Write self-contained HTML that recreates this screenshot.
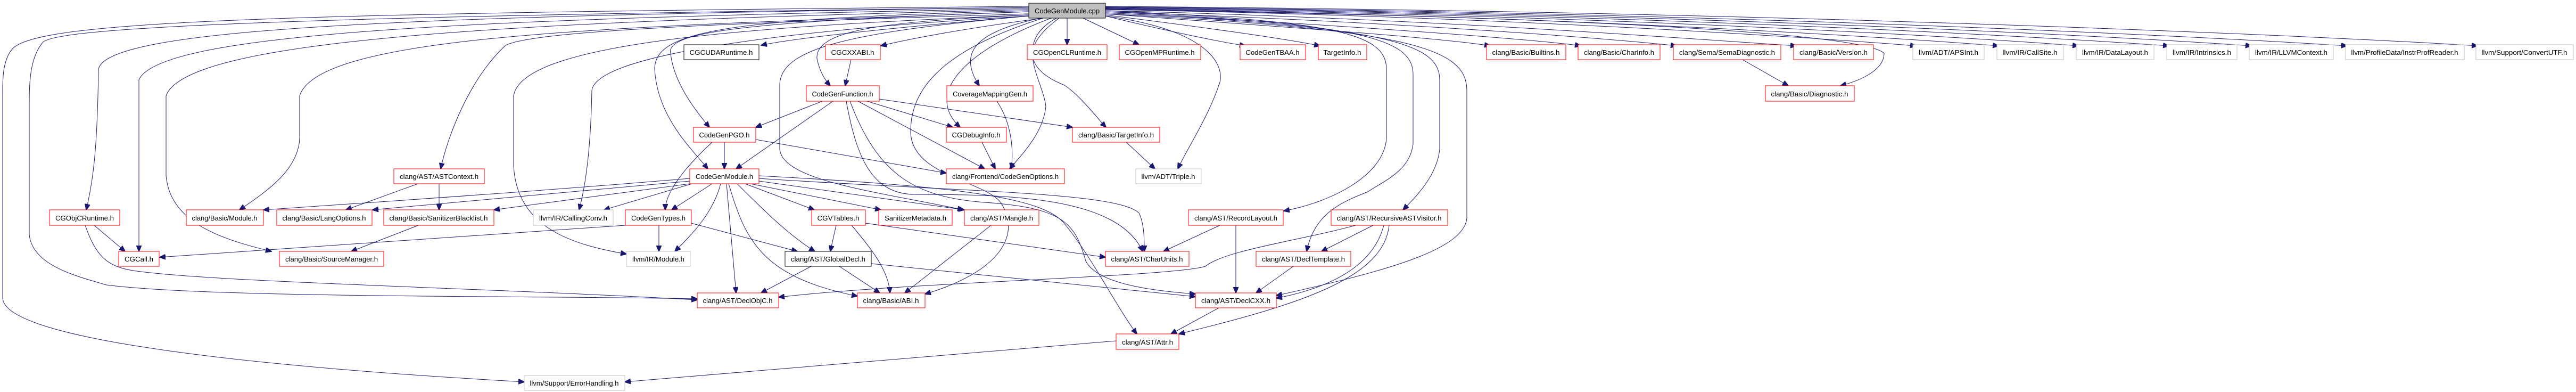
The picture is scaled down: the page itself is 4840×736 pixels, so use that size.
<!DOCTYPE html>
<html><head><meta charset="utf-8"><style>html,body{margin:0;padding:0;background:#fff}svg{display:block}</style></head>
<body>
<svg width="4840" height="736" viewBox="0 0 4840 736" xmlns="http://www.w3.org/2000/svg">
<defs><marker id="a" markerUnits="userSpaceOnUse" markerWidth="12" markerHeight="10" refX="11" refY="5" orient="auto"><path d="M0,0 L12,5 L0,10 z" fill="#191970" stroke="#191970"/></marker></defs>
<g fill="none" stroke="#191970" stroke-width="1" marker-end="url(#a)">
<path d="M2005,34 L2005,84"/>
<path d="M2035,34 L2140,84"/>
<path d="M2077,30 C2200,60 2300,80 2340,86"/>
<path d="M2077,28 C2250,50 2400,70 2480,86"/>
<path d="M2077,26 C2400,50 2700,70 2800,86"/>
<path d="M2077,24 C2500,45 2900,75 2970,86"/>
<path d="M2077,22 C2600,40 3000,70 3150,86"/>
<path d="M2077,20 C2700,35 3200,75 3375,86"/>
<path d="M2077,18 C2800,30 3400,70 3600,86"/>
<path d="M2077,17 C2900,28 3550,70 3755,86"/>
<path d="M2077,16 C3000,27 3700,70 3905,86"/>
<path d="M2077,15 C3100,26 3850,70 4075,86"/>
<path d="M2077,14 C3200,25 4000,70 4230,86"/>
<path d="M2077,13 C3300,24 4150,70 4410,86"/>
<path d="M2077,12 C3400,22 4400,70 4655,86"/>
<path d="M1933,30 C1700,50 1500,70 1430,85"/>
<path d="M1960,34 C1800,55 1700,75 1655,86"/>
<path d="M1933,28 C1700,40 1530,50 1535,110 C1540,135 1550,150 1560,161"/>
<path d="M1599,112 L1588,161"/>
<path d="M1955,34 C1830,60 1800,100 1840,161"/>
<path d="M1933,22 C1400,40 1250,60 1260,100 C1265,150 1300,200 1333,239"/>
<path d="M1933,20 C1350,35 1230,60 1230,130 C1235,220 1300,280 1330,317"/>
<path d="M1975,34 C1800,100 1740,180 1804,239"/>
<path d="M1985,34 C1900,80 1960,150 1965,200 C1960,250 1920,290 1897,317"/>
<path d="M1990,34 C1900,100 1950,140 2000,160 C2030,180 2060,220 2078,239"/>
<path d="M2077,30 C2300,60 2300,140 2290,160 C2270,220 2230,280 2213,317"/>
<path d="M2077,18 C2900,30 3500,60 3540,100 C3540,130 3500,150 3458,161"/>
<path d="M1545,190 L1420,239"/>
<path d="M1565,190 L1383,317"/>
<path d="M1629,190 L1790,239"/>
<path d="M1612,190 L1850,317"/>
<path d="M1652,186 L2015,239"/>
<path d="M1590,190 C1610,300 1640,365 1720,365 C1900,365 2100,370 2147,472"/>
<path d="M1597,190 C1650,330 1720,370 1850,380 C2000,390 2020,420 2040,490 C2060,530 2150,545 2246,552"/>
<path d="M1361,267 L1361,317"/>
<path d="M1420,262 L1778,325"/>
<path d="M1338,267 C1270,330 1250,370 1250,394"/>
<path d="M1845,267 L1870,317"/>
<path d="M1873,190 C1900,230 1905,280 1900,317"/>
<path d="M2116,267 L2170,317"/>
<path d="M1338,345 L1262,394"/>
<path d="M1354,345 C1340,400 1300,440 1268,472"/>
<path d="M1365,345 L1383,550"/>
<path d="M1369,345 C1400,450 1430,520 1611,556"/>
<path d="M1385,345 C1430,390 1480,440 1531,472"/>
<path d="M1400,345 L1530,394"/>
<path d="M1410,345 L1655,394"/>
<path d="M1426,340 L1812,394"/>
<path d="M1426,335 C1800,360 2100,360 2140,400 C2150,420 2150,450 2150,472"/>
<path d="M1426,330 C1800,350 1960,370 2000,420 C2050,480 2100,580 2136,627"/>
<path d="M1296,335 C1000,360 700,380 495,394"/>
<path d="M1296,340 L700,394"/>
<path d="M1296,345 L928,394"/>
<path d="M1300,345 L1135,394"/>
<path d="M785,345 L650,394"/>
<path d="M825,345 L825,394"/>
<path d="M786,423 L660,472"/>
<path d="M177,423 L235,472"/>
<path d="M160,423 C180,480 200,500 250,508 C400,530 900,540 1310,563"/>
<path d="M1933,14 C800,30 200,50 185,130 C183,280 175,340 162,394"/>
<path d="M1933,16 C900,35 300,60 261,150 L261,472"/>
<path d="M1933,18 C1000,40 350,70 312,180 L312,330 C320,420 420,450 510,472"/>
<path d="M1933,22 C1200,50 600,60 563,180 L563,260 C560,320 500,360 450,394"/>
<path d="M1933,26 C1300,45 1000,60 950,85 C880,150 840,260 828,317"/>
<path d="M1933,28 C1400,50 980,80 965,180 L965,310 C970,430 1080,460 1177,477"/>
<path d="M1933,30 C1500,55 1120,100 1112,170 C1110,280 1100,350 1088,394"/>
<path d="M1933,12 C500,25 80,40 25,90 C5,110 5,150 5,170 L5,560 C10,640 500,690 985,717"/>
<path d="M1933,14 C600,30 100,50 80,80 C55,110 55,160 55,200 L55,440 C60,500 150,520 200,535 C400,560 1000,555 1310,561"/>
<path d="M2097,640 L1174,717"/>
<path d="M1933,30 C1600,60 1465,90 1465,160 L1465,280 C1470,340 1650,360 1810,394"/>
<path d="M1960,34 C1750,100 1710,180 1711,250 C1715,330 1850,340 1880,380 C1920,440 1880,510 1738,552"/>
<path d="M2077,20 C2500,40 2605,60 2605,130 L2605,260 C2600,330 2500,380 2412,396"/>
<path d="M2077,22 C2550,45 2655,70 2655,140 L2655,270 C2650,320 2600,340 2570,360 C2520,380 2470,400 2455,472"/>
<path d="M2077,24 C2600,50 2705,80 2705,150 L2705,280 C2700,330 2660,370 2636,394"/>
<path d="M2077,26 C2650,55 2756,90 2756,170 L2756,410 C2750,470 2600,510 2398,555"/>
<path d="M2580,423 L2483,472"/>
<path d="M2547,423 C2450,450 2300,470 2265,500 C2200,520 1700,530 1463,558"/>
<path d="M2600,423 C2580,500 2500,540 2398,560"/>
<path d="M2610,423 C2600,520 2450,570 2215,627"/>
<path d="M2430,500 L2360,550"/>
<path d="M2292,423 L2186,472"/>
<path d="M2322,423 L2322,550"/>
<path d="M2290,578 L2200,627"/>
<path d="M1524,500 L1430,550"/>
<path d="M1577,500 L1653,550"/>
<path d="M1637,495 L2246,557"/>
<path d="M1571,423 L1560,472"/>
<path d="M1600,423 C1640,470 1670,510 1672,550"/>
<path d="M1626,419 L2077,483"/>
<path d="M1862,423 L1700,550"/>
<path d="M1295,418 L1498,472"/>
<path d="M1238,423 L1238,472"/>
<path d="M1175,423 L300,483"/>
<path d="M3274,112 L3360,161"/>
</g>
<g font-family="Liberation Sans, sans-serif" font-size="13" text-anchor="middle" lengthAdjust="spacingAndGlyphs">
<!-- nodes: rect + text -->
<rect x="1933" y="6" width="144" height="28" fill="#bfbfbf" stroke="#000"/><text x="2005" y="25" textLength="122" lengthAdjust="spacingAndGlyphs">CodeGenModule.cpp</text>
<g fill="#fff" stroke="#000"><rect x="1285" y="84" width="141" height="28"/><rect x="1475" y="472" width="162" height="28"/></g>
<g fill="#fff" stroke="#ff0000">
<rect x="1551" y="84" width="103" height="28"/><rect x="1930" y="84" width="150" height="28"/><rect x="2103" y="84" width="153" height="28"/><rect x="2330" y="84" width="123" height="28"/><rect x="2477" y="84" width="91" height="28"/><rect x="2793" y="84" width="149" height="28"/><rect x="2965" y="84" width="154" height="28"/><rect x="3144" y="84" width="202" height="28"/><rect x="3370" y="84" width="150" height="28"/>
<rect x="1515" y="161" width="137" height="29"/><rect x="1779" y="161" width="162" height="29"/><rect x="3317" y="161" width="167" height="29"/>
<rect x="1303" y="239" width="117" height="28"/><rect x="1778" y="239" width="113" height="28"/><rect x="2015" y="239" width="164" height="28"/>
<rect x="740" y="317" width="170" height="28"/><rect x="1296" y="317" width="130" height="28"/><rect x="1778" y="317" width="222" height="28"/>
<rect x="93" y="394" width="132" height="29"/><rect x="350" y="394" width="145" height="29"/><rect x="520" y="394" width="179" height="29"/><rect x="721" y="394" width="207" height="29"/><rect x="1175" y="394" width="124" height="29"/><rect x="1525" y="394" width="101" height="29"/><rect x="1651" y="394" width="138" height="29"/><rect x="1812" y="394" width="140" height="29"/><rect x="2233" y="394" width="178" height="29"/><rect x="2501" y="394" width="219" height="29"/>
<rect x="223" y="472" width="76" height="28"/><rect x="525" y="472" width="196" height="28"/><rect x="2077" y="472" width="157" height="28"/><rect x="2360" y="472" width="178" height="28"/>
<rect x="1310" y="550" width="153" height="28"/><rect x="1611" y="550" width="127" height="28"/><rect x="2246" y="550" width="152" height="28"/>
<rect x="2097" y="627" width="118" height="29"/>
</g>
<g fill="#fff" stroke="#bfbfbf">
<rect x="3594" y="84" width="134" height="28"/><rect x="3752" y="84" width="125" height="28"/><rect x="3901" y="84" width="146" height="28"/><rect x="4071" y="84" width="132" height="28"/><rect x="4226" y="84" width="158" height="28"/><rect x="4407" y="84" width="223" height="28"/><rect x="4652" y="84" width="183" height="28"/>
<rect x="2134" y="317" width="123" height="28"/><rect x="1002" y="394" width="150" height="29"/><rect x="1177" y="472" width="120" height="28"/><rect x="985" y="705" width="189" height="28"/>
</g>
<g fill="#000">
<text x="1355" y="103" textLength="119" lengthAdjust="spacingAndGlyphs">CGCUDARuntime.h</text>
<text x="1602" y="103" textLength="81" lengthAdjust="spacingAndGlyphs">CGCXXABI.h</text>
<text x="2005" y="103" textLength="128" lengthAdjust="spacingAndGlyphs">CGOpenCLRuntime.h</text>
<text x="2179" y="103" textLength="131" lengthAdjust="spacingAndGlyphs">CGOpenMPRuntime.h</text>
<text x="2391" y="103" textLength="101" lengthAdjust="spacingAndGlyphs">CodeGenTBAA.h</text>
<text x="2522" y="103" textLength="71" lengthAdjust="spacingAndGlyphs">TargetInfo.h</text>
<text x="2867" y="103" textLength="127" lengthAdjust="spacingAndGlyphs">clang/Basic/Builtins.h</text>
<text x="3042" y="103" textLength="132" lengthAdjust="spacingAndGlyphs">clang/Basic/CharInfo.h</text>
<text x="3245" y="103" textLength="180" lengthAdjust="spacingAndGlyphs">clang/Sema/SemaDiagnostic.h</text>
<text x="3445" y="103" textLength="128" lengthAdjust="spacingAndGlyphs">clang/Basic/Version.h</text>
<text x="3661" y="103" textLength="112" lengthAdjust="spacingAndGlyphs">llvm/ADT/APSInt.h</text>
<text x="3814" y="103" textLength="103" lengthAdjust="spacingAndGlyphs">llvm/IR/CallSite.h</text>
<text x="3974" y="103" textLength="124" lengthAdjust="spacingAndGlyphs">llvm/IR/DataLayout.h</text>
<text x="4137" y="103" textLength="110" lengthAdjust="spacingAndGlyphs">llvm/IR/Intrinsics.h</text>
<text x="4305" y="103" textLength="136" lengthAdjust="spacingAndGlyphs">llvm/IR/LLVMContext.h</text>
<text x="4518" y="103" textLength="201" lengthAdjust="spacingAndGlyphs">llvm/ProfileData/InstrProfReader.h</text>
<text x="4743" y="103" textLength="161" lengthAdjust="spacingAndGlyphs">llvm/Support/ConvertUTF.h</text>
<text x="1583" y="181" textLength="115" lengthAdjust="spacingAndGlyphs">CodeGenFunction.h</text>
<text x="1860" y="181" textLength="140" lengthAdjust="spacingAndGlyphs">CoverageMappingGen.h</text>
<text x="3400" y="181" textLength="145" lengthAdjust="spacingAndGlyphs">clang/Basic/Diagnostic.h</text>
<text x="1361" y="258" textLength="95" lengthAdjust="spacingAndGlyphs">CodeGenPGO.h</text>
<text x="1834" y="258" textLength="91" lengthAdjust="spacingAndGlyphs">CGDebugInfo.h</text>
<text x="2097" y="258" textLength="142" lengthAdjust="spacingAndGlyphs">clang/Basic/TargetInfo.h</text>
<text x="825" y="336" textLength="148" lengthAdjust="spacingAndGlyphs">clang/AST/ASTContext.h</text>
<text x="1361" y="336" textLength="108" lengthAdjust="spacingAndGlyphs">CodeGenModule.h</text>
<text x="1889" y="336" textLength="200" lengthAdjust="spacingAndGlyphs">clang/Frontend/CodeGenOptions.h</text>
<text x="2195" y="336" textLength="101" lengthAdjust="spacingAndGlyphs">llvm/ADT/Triple.h</text>
<text x="159" y="414" textLength="110" lengthAdjust="spacingAndGlyphs">CGObjCRuntime.h</text>
<text x="422" y="414" textLength="123" lengthAdjust="spacingAndGlyphs">clang/Basic/Module.h</text>
<text x="609" y="414" textLength="157" lengthAdjust="spacingAndGlyphs">clang/Basic/LangOptions.h</text>
<text x="824" y="414" textLength="185" lengthAdjust="spacingAndGlyphs">clang/Basic/SanitizerBlacklist.h</text>
<text x="1077" y="414" textLength="128" lengthAdjust="spacingAndGlyphs">llvm/IR/CallingConv.h</text>
<text x="1237" y="414" textLength="102" lengthAdjust="spacingAndGlyphs">CodeGenTypes.h</text>
<text x="1575" y="414" textLength="79" lengthAdjust="spacingAndGlyphs">CGVTables.h</text>
<text x="1720" y="414" textLength="116" lengthAdjust="spacingAndGlyphs">SanitizerMetadata.h</text>
<text x="1882" y="414" textLength="118" lengthAdjust="spacingAndGlyphs">clang/AST/Mangle.h</text>
<text x="2322" y="414" textLength="156" lengthAdjust="spacingAndGlyphs">clang/AST/RecordLayout.h</text>
<text x="2610" y="414" textLength="197" lengthAdjust="spacingAndGlyphs">clang/AST/RecursiveASTVisitor.h</text>
<text x="261" y="491" textLength="54" lengthAdjust="spacingAndGlyphs">CGCall.h</text>
<text x="623" y="491" textLength="174" lengthAdjust="spacingAndGlyphs">clang/Basic/SourceManager.h</text>
<text x="1237" y="491" textLength="98" lengthAdjust="spacingAndGlyphs">llvm/IR/Module.h</text>
<text x="1556" y="491" textLength="140" lengthAdjust="spacingAndGlyphs">clang/AST/GlobalDecl.h</text>
<text x="2155" y="491" textLength="135" lengthAdjust="spacingAndGlyphs">clang/AST/CharUnits.h</text>
<text x="2449" y="491" textLength="156" lengthAdjust="spacingAndGlyphs">clang/AST/DeclTemplate.h</text>
<text x="1386" y="569" textLength="131" lengthAdjust="spacingAndGlyphs">clang/AST/DeclObjC.h</text>
<text x="1674" y="569" textLength="105" lengthAdjust="spacingAndGlyphs">clang/Basic/ABI.h</text>
<text x="2322" y="569" textLength="130" lengthAdjust="spacingAndGlyphs">clang/AST/DeclCXX.h</text>
<text x="2156" y="647" textLength="96" lengthAdjust="spacingAndGlyphs">clang/AST/Attr.h</text>
<text x="1079" y="724" textLength="167" lengthAdjust="spacingAndGlyphs">llvm/Support/ErrorHandling.h</text>
</g>
</g>
</svg>
</body></html>
